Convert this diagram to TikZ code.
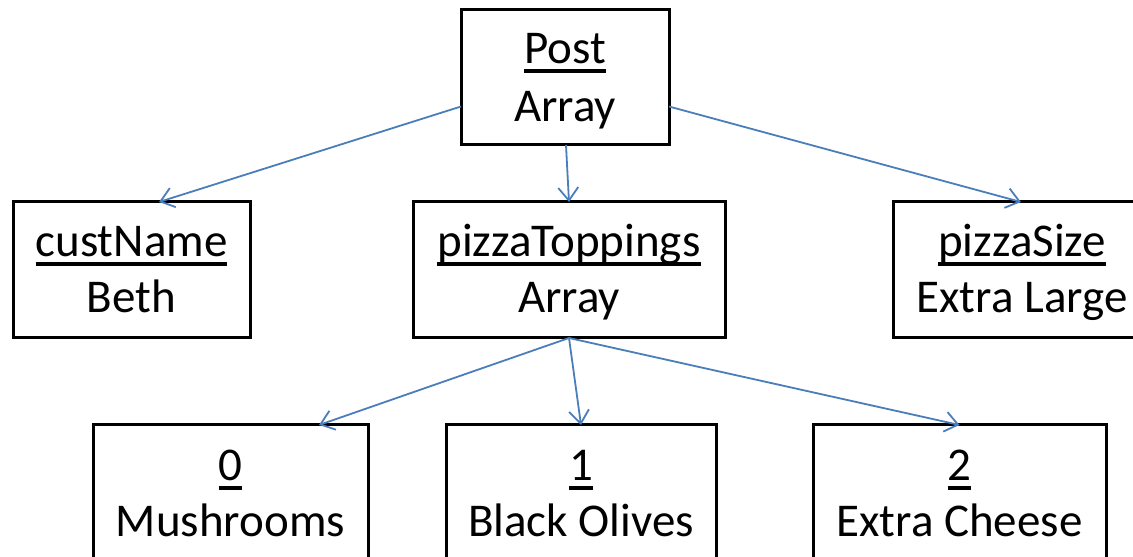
\documentclass[tikz,border=0pt]{standalone}
\usepackage{fontspec}
\setmainfont{Carlito}
\usetikzlibrary{arrows.meta}
\definecolor{lnblue}{HTML}{4A7EBB}
\newcommand\myul[1]{\setbox0\hbox{#1}\rlap{\rule[-9pt]{\wd0}{3.8pt}}\box0}
\begin{document}
\begin{tikzpicture}[x=1pt,y=1pt,
  box/.style={draw=black, line width=3pt, rectangle, inner sep=0pt, outer sep=0pt, minimum height=136pt},
  lbl/.style={inner sep=0pt, outer sep=0pt, anchor=base, font=\fontsize{47}{56}\selectfont},
  conn/.style={draw=lnblue, line width=1.8pt, -{Straight Barb[length=13pt,width=20pt]}}]
\useasboundingbox (0,0) rectangle (1133,557);
% boxes
\node[box, minimum width=208pt, minimum height=135pt] (post) at (565,479.5) {};
\node[box, minimum width=237pt] (cust) at (131.5,287) {};
\node[box, minimum width=312pt] (top) at (569,287) {};
\node[box, minimum width=258pt] (size) at (1022,287) {};
\node[box, minimum width=275pt] (b0) at (230.5,64) {};
\node[box, minimum width=270pt] (b1) at (581,64) {};
\node[box, minimum width=293pt] (b2) at (959.5,64) {};
% texts
\node[lbl] (postA) at ([yshift=-54pt]post.north) {\myul{Post}};
\node[lbl] (postB) at ([yshift=-112pt]post.north) {Array};
\node[lbl] (custA) at ([yshift=-55pt]cust.north) {\myul{custName}};
\node[lbl] (custB) at ([yshift=-111pt]cust.north) {Beth};
\node[lbl] (topA) at ([yshift=-55pt]top.north) {\myul{pizzaToppings}};
\node[lbl] (topB) at ([yshift=-111pt]top.north) {Array};
\node[lbl] (sizeA) at ([yshift=-55pt]size.north) {\myul{pizzaSize}};
\node[lbl] (sizeB) at ([yshift=-111pt]size.north) {Extra Large};
\node[lbl] (b0A) at ([yshift=-56pt]b0.north) {\myul{0}};
\node[lbl] (b0B) at ([yshift=-112pt]b0.north) {Mushrooms};
\node[lbl] (b1A) at ([yshift=-56pt]b1.north) {\myul{1}};
\node[lbl] (b1B) at ([yshift=-112pt]b1.north) {Black Olives};
\node[lbl] (b2A) at ([yshift=-56pt]b2.north) {\myul{2}};
\node[lbl] (b2B) at ([yshift=-112pt]b2.north) {Extra Cheese};
% connectors
\draw[conn] ([yshift=-29pt]post.west) -- ([xshift=27.5pt]cust.north);
\draw[conn] ([xshift=1pt]post.south) -- (top.north);
\draw[conn] ([yshift=-29pt]post.east) -- ([xshift=-1pt]size.north);
\draw[conn] (top.south) -- ([xshift=88.5pt]b0.north);
\draw[conn] (top.south) -- (b1.north);
\draw[conn] (top.south) -- (b2.north);
\end{tikzpicture}
\end{document}
